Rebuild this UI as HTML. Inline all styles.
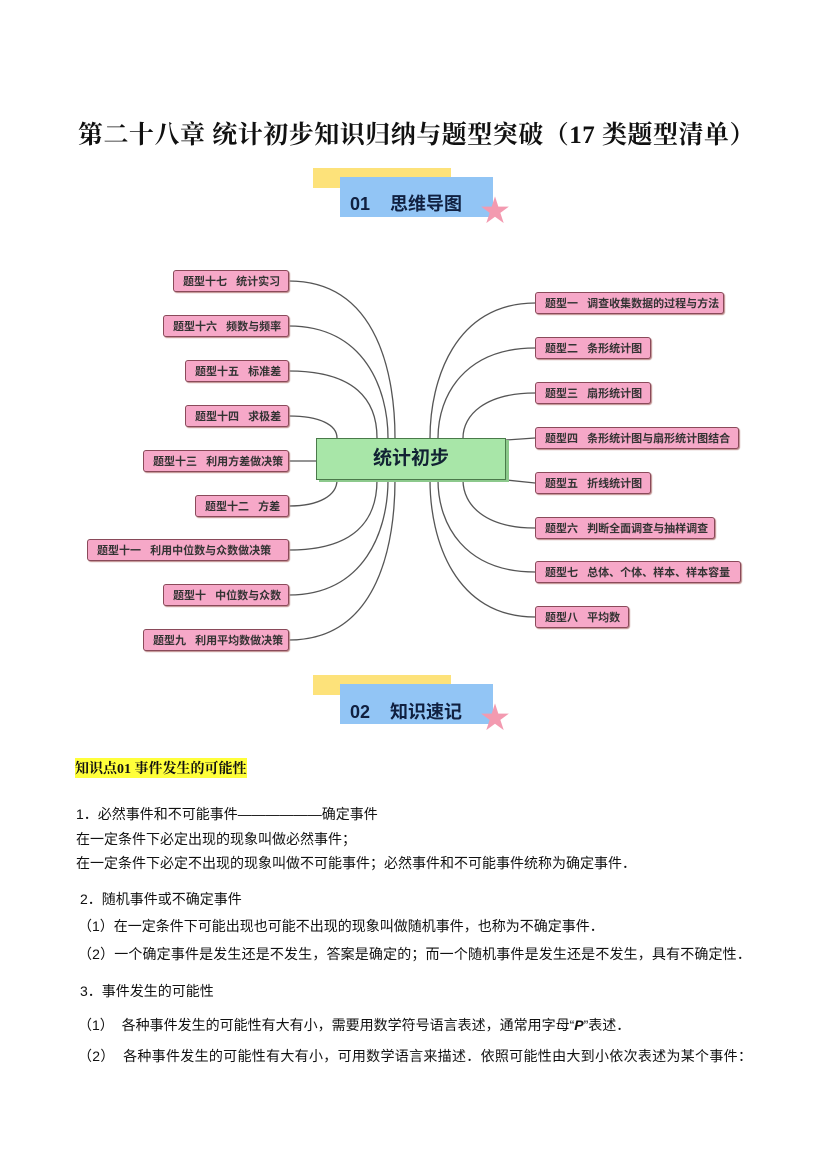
<!DOCTYPE html>
<html><head><meta charset="utf-8"><style>
body{margin:0;background:#fff;}
#p{position:relative;width:827px;height:1169px;overflow:hidden;font-family:"Liberation Serif","Noto Serif CJK SC","Noto Sans CJK SC",serif;}
.t{position:absolute;white-space:nowrap;font-size:14px;color:#111;font-family:"Liberation Sans","Noto Sans CJK SC",sans-serif;}
.b{position:absolute;height:22px;background:#f6a8c8;border:1px solid #8a4a5a;border-radius:3px;font-size:11px;line-height:22px;padding-left:9px;box-sizing:border-box;font-family:"Liberation Sans","Noto Sans CJK SC",sans-serif;color:#333;font-weight:bold;white-space:nowrap;box-shadow:1px 1px 1px #b88;}
</style></head><body><div id="p">
<div class="t" style="left:78px;top:115px;font-size:25px;letter-spacing:0.5px;font-weight:bold;font-family:'Liberation Serif','Noto Serif CJK SC',serif;">第二十八章&nbsp;统计初步知识归纳与题型突破（17 类题型清单）</div>

<div style="position:absolute;left:313px;top:168px;width:138px;height:20px;background:#fde27a"></div>
<div style="position:absolute;left:340px;top:177px;width:153px;height:40px;background:#92c5f5"></div>
<div class="t" style="left:350px;top:190px;font-size:18px;font-weight:bold;color:#102040">01&nbsp;&nbsp;&nbsp;&nbsp;思维导图</div>
<div style="position:absolute;left:480px;top:197px;font-size:30px;color:#f39ab0;line-height:30px">★</div>

<div style="position:absolute;left:313px;top:675px;width:138px;height:20px;background:#fde27a"></div>
<div style="position:absolute;left:340px;top:684px;width:153px;height:40px;background:#92c5f5"></div>
<div class="t" style="left:350px;top:698px;font-size:18px;font-weight:bold;color:#102040">02&nbsp;&nbsp;&nbsp;&nbsp;知识速记</div>
<div style="position:absolute;left:480px;top:704px;font-size:30px;color:#f39ab0;line-height:30px">★</div>

<svg style="position:absolute;left:0;top:0" width="827" height="1169" fill="none" stroke="#555" stroke-width="1.3">
<path d="M289,281 C380,281 395,380 395,438"/>
<path d="M289,326 C365,326 388,390 388,438"/>
<path d="M289,371 C355,371 377,400 377,438"/>
<path d="M289,416 C320,416 337,425 337,438"/>
<path d="M289,461 L316,461"/>
<path d="M289,506 C320,506 337,495 337,480"/>
<path d="M289,550 C355,550 377,520 377,480"/>
<path d="M289,595 C365,595 388,530 388,480"/>
<path d="M289,640 C380,640 395,540 395,480"/>
<path d="M535,303 C455,303 430,380 430,438"/>
<path d="M535,348 C465,348 438,395 438,438"/>
<path d="M535,393 C485,393 463,415 463,438"/>
<path d="M535,438 L506,440"/>
<path d="M535,483 L506,480"/>
<path d="M535,528 C485,528 463,505 463,480"/>
<path d="M535,572 C465,572 438,525 438,480"/>
<path d="M535,617 C455,617 430,540 430,480"/>
</svg>

<div style="position:absolute;left:319px;top:440px;width:190px;height:42px;background:#8cc98c"></div>
<div style="position:absolute;left:316px;top:438px;width:190px;height:42px;background:#a8e6a8;border:1px solid #4a7a4a;box-sizing:border-box;text-align:center;line-height:40px;font-size:19px;font-weight:bold;font-family:'Liberation Sans','Noto Sans CJK SC',sans-serif;color:#123">统计初步</div>

<div class="b" style="left:173px;top:270px;width:116px">题型十七&nbsp;&nbsp;&nbsp;统计实习</div>
<div class="b" style="left:163px;top:315px;width:126px">题型十六&nbsp;&nbsp;&nbsp;频数与频率</div>
<div class="b" style="left:185px;top:360px;width:104px">题型十五&nbsp;&nbsp;&nbsp;标准差</div>
<div class="b" style="left:185px;top:405px;width:104px">题型十四&nbsp;&nbsp;&nbsp;求极差</div>
<div class="b" style="left:143px;top:450px;width:146px">题型十三&nbsp;&nbsp;&nbsp;利用方差做决策</div>
<div class="b" style="left:195px;top:495px;width:94px">题型十二&nbsp;&nbsp;&nbsp;方差</div>
<div class="b" style="left:87px;top:539px;width:202px">题型十一&nbsp;&nbsp;&nbsp;利用中位数与众数做决策</div>
<div class="b" style="left:163px;top:584px;width:126px">题型十&nbsp;&nbsp;&nbsp;中位数与众数</div>
<div class="b" style="left:143px;top:629px;width:146px">题型九&nbsp;&nbsp;&nbsp;利用平均数做决策</div>

<div class="b" style="left:535px;top:292px;width:189px">题型一&nbsp;&nbsp;&nbsp;调查收集数据的过程与方法</div>
<div class="b" style="left:535px;top:337px;width:116px">题型二&nbsp;&nbsp;&nbsp;条形统计图</div>
<div class="b" style="left:535px;top:382px;width:116px">题型三&nbsp;&nbsp;&nbsp;扇形统计图</div>
<div class="b" style="left:535px;top:427px;width:204px">题型四&nbsp;&nbsp;&nbsp;条形统计图与扇形统计图结合</div>
<div class="b" style="left:535px;top:472px;width:116px">题型五&nbsp;&nbsp;&nbsp;折线统计图</div>
<div class="b" style="left:535px;top:517px;width:180px">题型六&nbsp;&nbsp;&nbsp;判断全面调查与抽样调查</div>
<div class="b" style="left:535px;top:561px;width:206px">题型七&nbsp;&nbsp;&nbsp;总体、个体、样本、样本容量</div>
<div class="b" style="left:535px;top:606px;width:94px">题型八&nbsp;&nbsp;&nbsp;平均数</div>

<div class="t" style="left:75px;top:758px;background:#ffff3a;font-weight:bold;font-family:'Liberation Serif','Noto Serif CJK SC',serif;">知识点01 事件发生的可能性</div>
<div class="t" style="left:76px;top:804px;">1．必然事件和不可能事件——————确定事件</div>
<div class="t" style="left:76px;top:829px;">在一定条件下必定出现的现象叫做必然事件；</div>
<div class="t" style="left:76px;top:853px;">在一定条件下必定不出现的现象叫做不可能事件；必然事件和不可能事件统称为确定事件．</div>
<div class="t" style="left:80px;top:889px;">2．随机事件或不确定事件</div>
<div class="t" style="left:78px;top:916px;">（1）在一定条件下可能出现也可能不出现的现象叫做随机事件，也称为不确定事件．</div>
<div class="t" style="left:78px;top:944px;letter-spacing:0.15px">（2）一个确定事件是发生还是不发生，答案是确定的；而一个随机事件是发生还是不发生，具有不确定性．</div>
<div class="t" style="left:80px;top:981px;">3．事件发生的可能性</div>
<div class="t" style="left:78px;top:1015px;">（1）&nbsp;&nbsp;各种事件发生的可能性有大有小，需要用数学符号语言表述，通常用字母“<b><i>P</i></b>”表述．</div>
<div class="t" style="left:78px;top:1046px;letter-spacing:0.3px">（2）&nbsp;&nbsp;各种事件发生的可能性有大有小，可用数学语言来描述．依照可能性由大到小依次表述为某个事件：</div>
</div></body></html>
